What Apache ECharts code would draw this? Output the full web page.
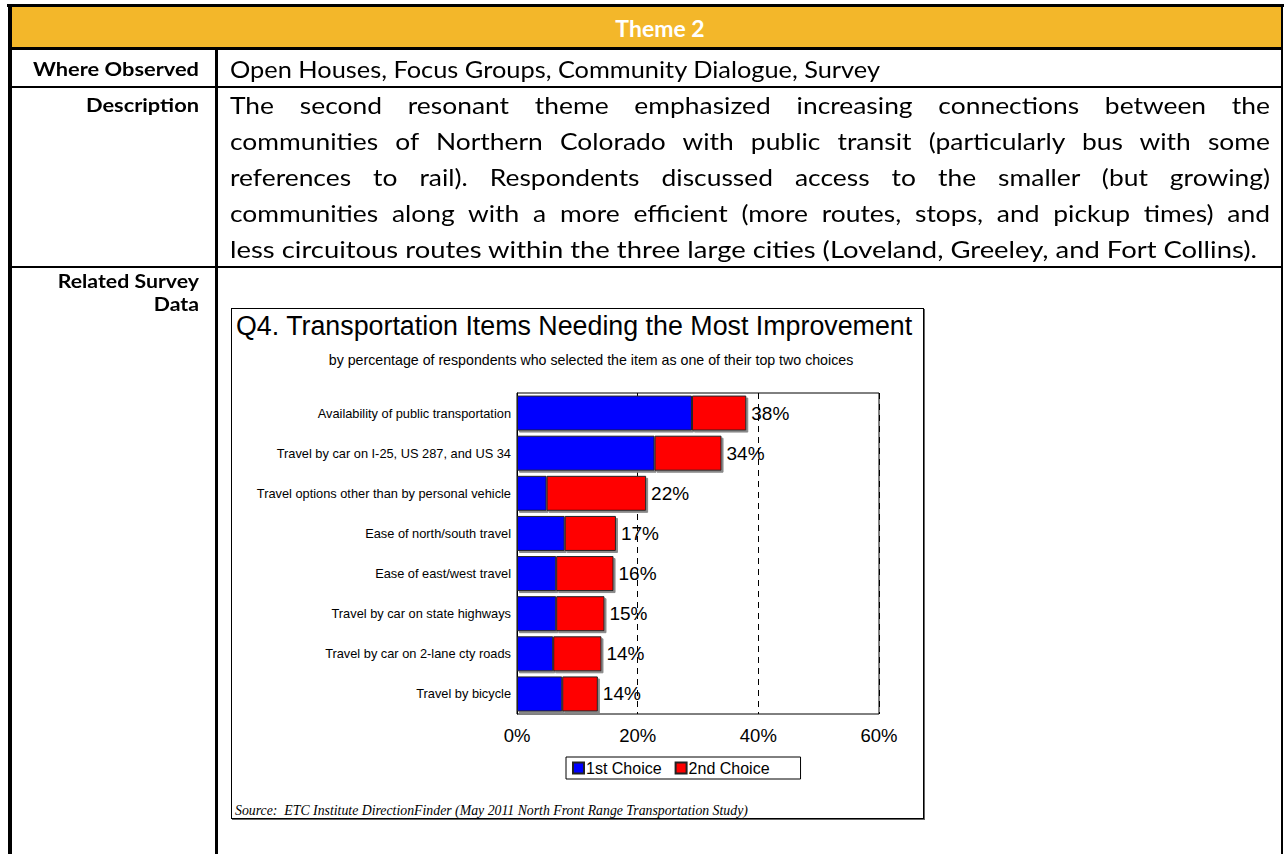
<!DOCTYPE html>
<html><head><meta charset="utf-8">
<script src="https://cdn.jsdelivr.net/npm/echarts@6/dist/echarts.min.js"></script>
<style>
html,body{margin:0;padding:0;background:#fff;}
body{width:1285px;height:854px;overflow:hidden;position:relative;}
.blk{position:absolute;background:#000;}
.t{position:absolute;white-space:nowrap;font-family:Lato,"Open Sans",sans-serif;color:#000;}
.lbl{font-weight:700;font-size:19.5px;line-height:26px;height:26px;}
.lbl2{font-size:19px;line-height:20px;height:20px;}
.body{font-size:24px;line-height:36px;height:36px;left:230px;}
#chart{position:absolute;left:231px;top:308px;width:693px;height:511px;box-sizing:border-box;border:1px solid #000;box-shadow:1px 1px 0 #666;background:#fff;}
</style>
</head><body>
<div style="position:absolute;left:12px;top:7px;width:1269px;height:40px;background:#F3B72A;"></div>
<div class="blk" style="left:7px;top:4px;width:1277px;height:3px;"></div>
<div class="blk" style="left:8px;top:4px;width:4px;height:850px;"></div>
<div class="blk" style="left:1281px;top:4px;width:2px;height:850px;"></div>
<div class="blk" style="left:8px;top:47px;width:1275px;height:3px;"></div>
<div class="blk" style="left:215px;top:50px;width:3px;height:804px;"></div>
<div class="blk" style="left:8px;top:86px;width:1275px;height:2px;"></div>
<div class="blk" style="left:8px;top:266px;width:1275px;height:2px;"></div>

<div class="t" id="hdr" style="left:560px;width:200px;top:10px;height:36px;line-height:36px;text-align:center;color:#fff;font-weight:700;font-size:23px;">Theme 2</div>

<div class="t lbl rl" style="top:56px;">Where Observed</div>
<div class="t lbl rl" style="top:92px;">Description</div>
<div class="t lbl lbl2 rl" style="top:271px;">Related Survey</div>
<div class="t lbl lbl2 rl" style="top:294px;">Data</div>

<div class="t body nat" data-w="650" style="top:51px;">Open Houses, Focus Groups, Community Dialogue, Survey</div>
<div class="t body jus" style="top:87px;">The second resonant theme emphasized increasing connections between the</div>
<div class="t body jus" style="top:123px;">communities of Northern Colorado with public transit (particularly bus with some</div>
<div class="t body jus" style="top:159px;">references to rail). Respondents discussed access to the smaller (but growing)</div>
<div class="t body jus" style="top:195px;">communities along with a more efficient (more routes, stops, and pickup times) and</div>
<div class="t body nat" data-w="1027" style="top:231px;">less circuitous routes within the three large cities (Loveland, Greeley, and Fort Collins).</div>

<div id="chart"></div>
<script>
// ---- chart data ----
const categories = [
  'Availability of public transportation',
  'Travel by car on I-25, US 287, and US 34',
  'Travel options other than by personal vehicle',
  'Ease of north/south travel',
  'Ease of east/west travel',
  'Travel by car on state highways',
  'Travel by car on 2-lane cty roads',
  'Travel by bicycle'
];
const firstChoice  = [29.0, 22.8, 4.9, 7.9, 6.5, 6.5, 6.0, 7.5];
const secondChoice = [9.0, 11.1, 16.5, 8.5, 9.5, 8.0, 8.0, 5.9];
const totalLabels  = [38, 34, 22, 17, 16, 15, 14, 14];
const xTicks = [0, 20, 40, 60];
const seriesNames = ['1st Choice', '2nd Choice'];
const chartTitle = 'Q4. Transportation Items Needing the Most Improvement';
const chartSubtitle = 'by percentage of respondents who selected the item as one of their top two choices';
const sourceText = 'Source:  ETC Institute DirectionFinder (May 2011 North Front Range Transportation Study)';

// ---- text fitting for the table (layout only) ----
function natW(el){ const d=el.style.display; el.style.display='inline-block'; const w=el.getBoundingClientRect().width; el.style.display=d; return w; }
const target = 1040;
const nats = document.querySelectorAll('.body.nat');
let sSum = 0;
nats.forEach(el=>{ const sc = (+el.dataset.w)/natW(el); el.dataset.sc = sc; sSum += sc; });
const s = sSum / nats.length;
document.querySelectorAll('.body').forEach(el=>{
  el.style.transformOrigin='0 50%';
  if (el.classList.contains('jus')) {
    const w = natW(el);
    let sc = s;
    if (w*sc > target) sc = target / w;
    el.style.whiteSpace='normal';
    el.style.width=(target/sc)+'px';
    el.style.textAlign='justify';
    el.style.textAlignLast='justify';
    el.style.transform='scaleX('+sc+')';
  } else {
    el.style.transform='scaleX('+el.dataset.sc+')';
  }
});
const rls = document.querySelectorAll('.rl');
const ls = 166 / natW(rls[0]);
rls.forEach(el=>{
  el.style.width='199px'; el.style.left='0'; el.style.textAlign='right';
  el.style.transformOrigin='199px 50%'; el.style.transform='scaleX('+ls+')';
});

// ---- chart ----
const chart = echarts.init(document.getElementById('chart'), null, {renderer:'svg'});
const ff = '"Liberation Sans", Arial, sans-serif';
chart.setOption({
  animation:false,
  textStyle:{fontFamily:ff,color:'#000'},
  grid:{left:285,top:84,right:44,bottom:104,show:true,borderColor:'#000',borderWidth:1,backgroundColor:'transparent'},
  xAxis:{type:'value',min:xTicks[0],max:xTicks[xTicks.length-1],interval:20,
    axisLine:{show:false},axisTick:{show:false},
    axisLabel:{formatter:'{value}%',fontSize:18.5,color:'#000',margin:12,fontFamily:ff},
    splitLine:{show:true,lineStyle:{color:'#000',width:1,type:[6,5]}}},
  yAxis:{type:'category',inverse:true,data:categories,
    axisLine:{show:true,lineStyle:{color:'#000',width:1}},axisTick:{show:false},
    axisLabel:{fontSize:12.8,color:'#000',margin:6,fontFamily:ff}},
  legend:{left:334,top:448,padding:[3,31,3,6],itemWidth:11,itemHeight:11,itemGap:13,
    borderColor:'#000',borderWidth:1,icon:'rect',
    textStyle:{fontSize:16,color:'#000',fontFamily:ff,padding:[0,0,0,-3]},
    data:seriesNames},
  graphic:[
    {type:'text',left:4,top:3,style:{text:chartTitle,font:'26.8px '+ff,fill:'#000'}},
    {type:'text',x:359,y:51,style:{text:chartSubtitle,font:'14.2px '+ff,fill:'#000',textAlign:'center',textVerticalAlign:'middle'}},
    {type:'text',x:3,y:501,style:{text:sourceText,font:'italic 13.8px "Liberation Serif", "Times New Roman", serif',fill:'#000',textVerticalAlign:'middle'}}
  ],
  series:[
    {name:seriesNames[0],type:'bar',stack:'t',barWidth:35,data:firstChoice,
     itemStyle:{color:'#0000FF',borderColor:'#222',borderWidth:1,shadowColor:'#888',shadowOffsetX:2,shadowOffsetY:2,shadowBlur:0}},
    {name:seriesNames[1],type:'bar',stack:'t',barWidth:35,data:secondChoice,
     itemStyle:{color:'#FF0000',borderColor:'#222',borderWidth:1,shadowColor:'#888',shadowOffsetX:2,shadowOffsetY:2,shadowBlur:0},
     label:{show:true,position:'right',distance:5,fontSize:19,color:'#000',fontFamily:ff,
       formatter:p=>totalLabels[p.dataIndex]+'%'}}
  ]
});
</script>
</body></html>
